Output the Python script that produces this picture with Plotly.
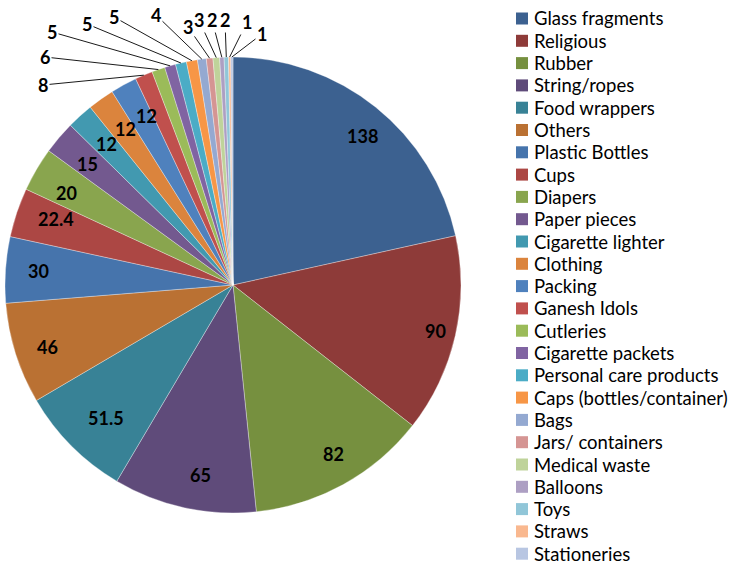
import math
import plotly.graph_objects as go

# ---------------- data ----------------
categories = [
    "Glass fragments", "Religious", "Rubber", "String/ropes", "Food wrappers",
    "Others", "Plastic Bottles", "Cups", "Diapers", "Paper pieces",
    "Cigarette lighter", "Clothing", "Packing", "Ganesh Idols", "Cutleries",
    "Cigarette packets", "Personal care products", "Caps (bottles/container)",
    "Bags", "Jars/ containers", "Medical waste", "Balloons", "Toys", "Straws",
    "Stationeries",
]
values = [138, 90, 82, 65, 51.5, 46, 30, 22.4, 20, 15, 12, 12, 12,
          8, 6, 5, 5, 5, 4, 3, 3, 2, 2, 1, 1]

# ---------------- style ----------------
colors = [
    "#3C6190", "#8E3B39", "#76903F", "#5F4B7A", "#388296", "#BA7133",
    "#4674AC", "#AC4744", "#89A54E", "#73598F", "#4299B0", "#DB843D",
    "#4F81BD", "#C0504D", "#9BBB59", "#8064A2", "#4BACC6", "#F79646",
    "#94A9D1", "#D59593", "#BFD39A", "#AD9FC3", "#91C6D8", "#F9B88F",
    "#B8C6E2",
]
W, H = 737, 568
CX, CY, R = 233, 285, 228          # pie centre / radius in pixels
N_INSIDE = 13                      # first slices labelled inside
INSIDE_R = 0.91
# label text centres (pixels) for the small slices labelled outside
outside_label_px = [(43, 85), (45, 57), (52, 32), (87, 24), (114, 17),
                    (156, 15), (188, 27), (199, 20), (212, 20), (225, 20),
                    (247, 22), (262, 34)]
LABEL_FONT = dict(family="Lato", size=18, color="black")
LEG_FONT = dict(family="Lato", size=18.5, color="black")
LEG_X0, LEG_Y0, LEG_DY, SW = 516, 18.5, 22.3, 12


def to_paper(px, py):
    return px / W, 1 - py / H


fig = go.Figure(go.Pie(
    labels=categories, values=values, sort=False, direction="clockwise",
    rotation=0, textinfo="none", hoverinfo="label+value",
    marker=dict(colors=colors, line=dict(color="rgba(255,255,255,0.55)", width=0.6)),
    domain=dict(x=[(CX - R) / W, (CX + R) / W], y=[1 - (CY + R) / H, 1 - (CY - R) / H]),
    showlegend=False,
))

total = sum(values)
annotations = []
cum = 0.0
for i, v in enumerate(values):
    mid = (cum + v / 2) / total * 2 * math.pi
    cum += v
    txt = "<b>%s</b>" % format(v, "g")
    if i < N_INSIDE:
        px = CX + INSIDE_R * R * math.sin(mid)
        py = CY - INSIDE_R * R * math.cos(mid)
        x, y = to_paper(px, py)
        annotations.append(dict(x=x, y=y, xref="paper", yref="paper", text=txt,
                                showarrow=False, font=LABEL_FONT))
    else:
        px = CX + R * math.sin(mid)
        py = CY - R * math.cos(mid)
        lx, ly = outside_label_px[i - N_INSIDE]
        x, y = to_paper(px, py)
        annotations.append(dict(x=x, y=y, xref="paper", yref="paper", text=txt,
                                showarrow=True, arrowhead=0, arrowwidth=0.9,
                                arrowcolor="black", ax=lx - px, ay=ly - py,
                                standoff=0, startstandoff=0, font=LABEL_FONT))

# legend (drawn from categories / colors)
shapes = []
for i, (name, col) in enumerate(zip(categories, colors)):
    yc = LEG_Y0 + i * LEG_DY
    x0, y0 = to_paper(LEG_X0, yc - SW / 2)
    x1, y1 = to_paper(LEG_X0 + SW, yc + SW / 2)
    shapes.append(dict(type="rect", xref="paper", yref="paper", x0=x0, x1=x1,
                       y0=y1, y1=y0, fillcolor=col, line=dict(width=0)))
    tx, ty = to_paper(LEG_X0 + SW + 4, yc)
    annotations.append(dict(x=tx, y=ty, xref="paper", yref="paper", text=name,
                            showarrow=False, xanchor="left", yanchor="middle",
                            font=LEG_FONT))

fig.update_layout(
    width=W, height=H, autosize=False,
    margin=dict(l=0, r=0, t=0, b=0),
    paper_bgcolor="white", plot_bgcolor="white",
    annotations=annotations, shapes=shapes,
)
fig.write_html("out.html")
